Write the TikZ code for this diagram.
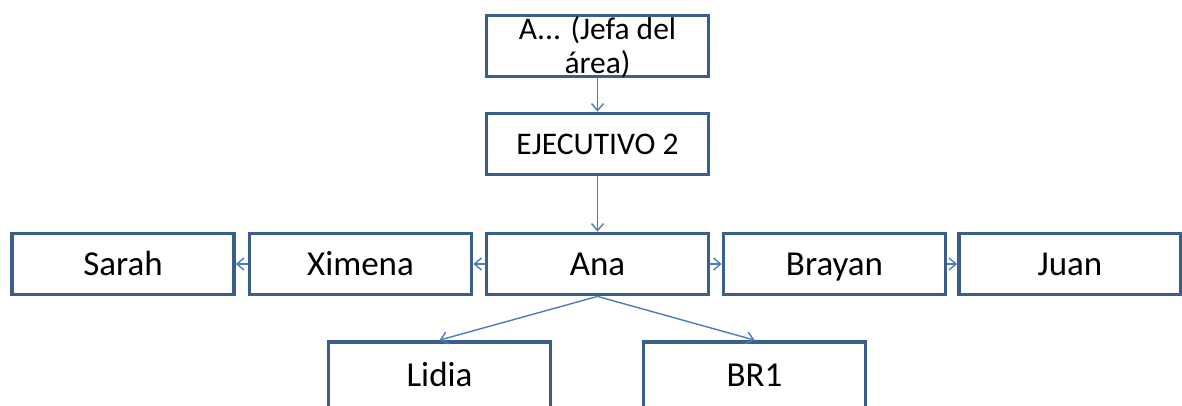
\documentclass[tikz,border=0pt]{standalone}
\usepackage{fontspec}
\setmainfont{Carlito}
\usetikzlibrary{arrows.meta}
\definecolor{boxline}{HTML}{3B5F8C}
\definecolor{conn}{HTML}{4A7EBB}
\begin{document}
\begin{tikzpicture}[x=1pt,y=-1pt,
  box/.style={draw=boxline,line width=3.8pt,fill=white,minimum width=222pt,minimum height=61pt,inner sep=0pt,text=black,font=\fontsize{35}{42}\selectfont,text height=22.5pt,text depth=0pt},
  lowbox/.style={box,minimum height=66pt},
  smallbox/.style={box,font=\fontsize{31.5}{34}\selectfont,text height=20.3pt},
  conn/.style={draw=conn,line width=1.4pt,-{Straight Barb[length=7pt,width=12pt,line width=1.4pt]}}]
\useasboundingbox (0,0) rectangle (1182,405);
\node[smallbox,align=center,text height=54.3pt] (top) at (597.5,46) {A... (Jefa del\\área)};
\node[smallbox] (ej) at (597.5,144) {EJECUTIVO 2};
\node[box] (sarah) at (123,264) {Sarah};
\node[box] (ximena) at (360.5,264) {Ximena};
\node[box] (ana) at (597.5,264) {Ana};
\node[box] (brayan) at (834.5,264) {Brayan};
\node[box] (juan) at (1070,264) {Juan};
\node[lowbox] (lidia) at (439.5,375) {Lidia};
\node[lowbox] (br1) at (754.5,375) {BR1};
\draw[conn] (top) -- (ej);
\draw[conn] (ej) -- (ana);
\draw[conn] (ana) -- (ximena);
\draw[conn] (ximena) -- (sarah);
\draw[conn] (ana) -- (brayan);
\draw[conn] (brayan) -- (juan);
\draw[conn] (ana.south) -- (lidia.north);
\draw[conn] (ana.south) -- (br1.north);
\end{tikzpicture}
\end{document}
